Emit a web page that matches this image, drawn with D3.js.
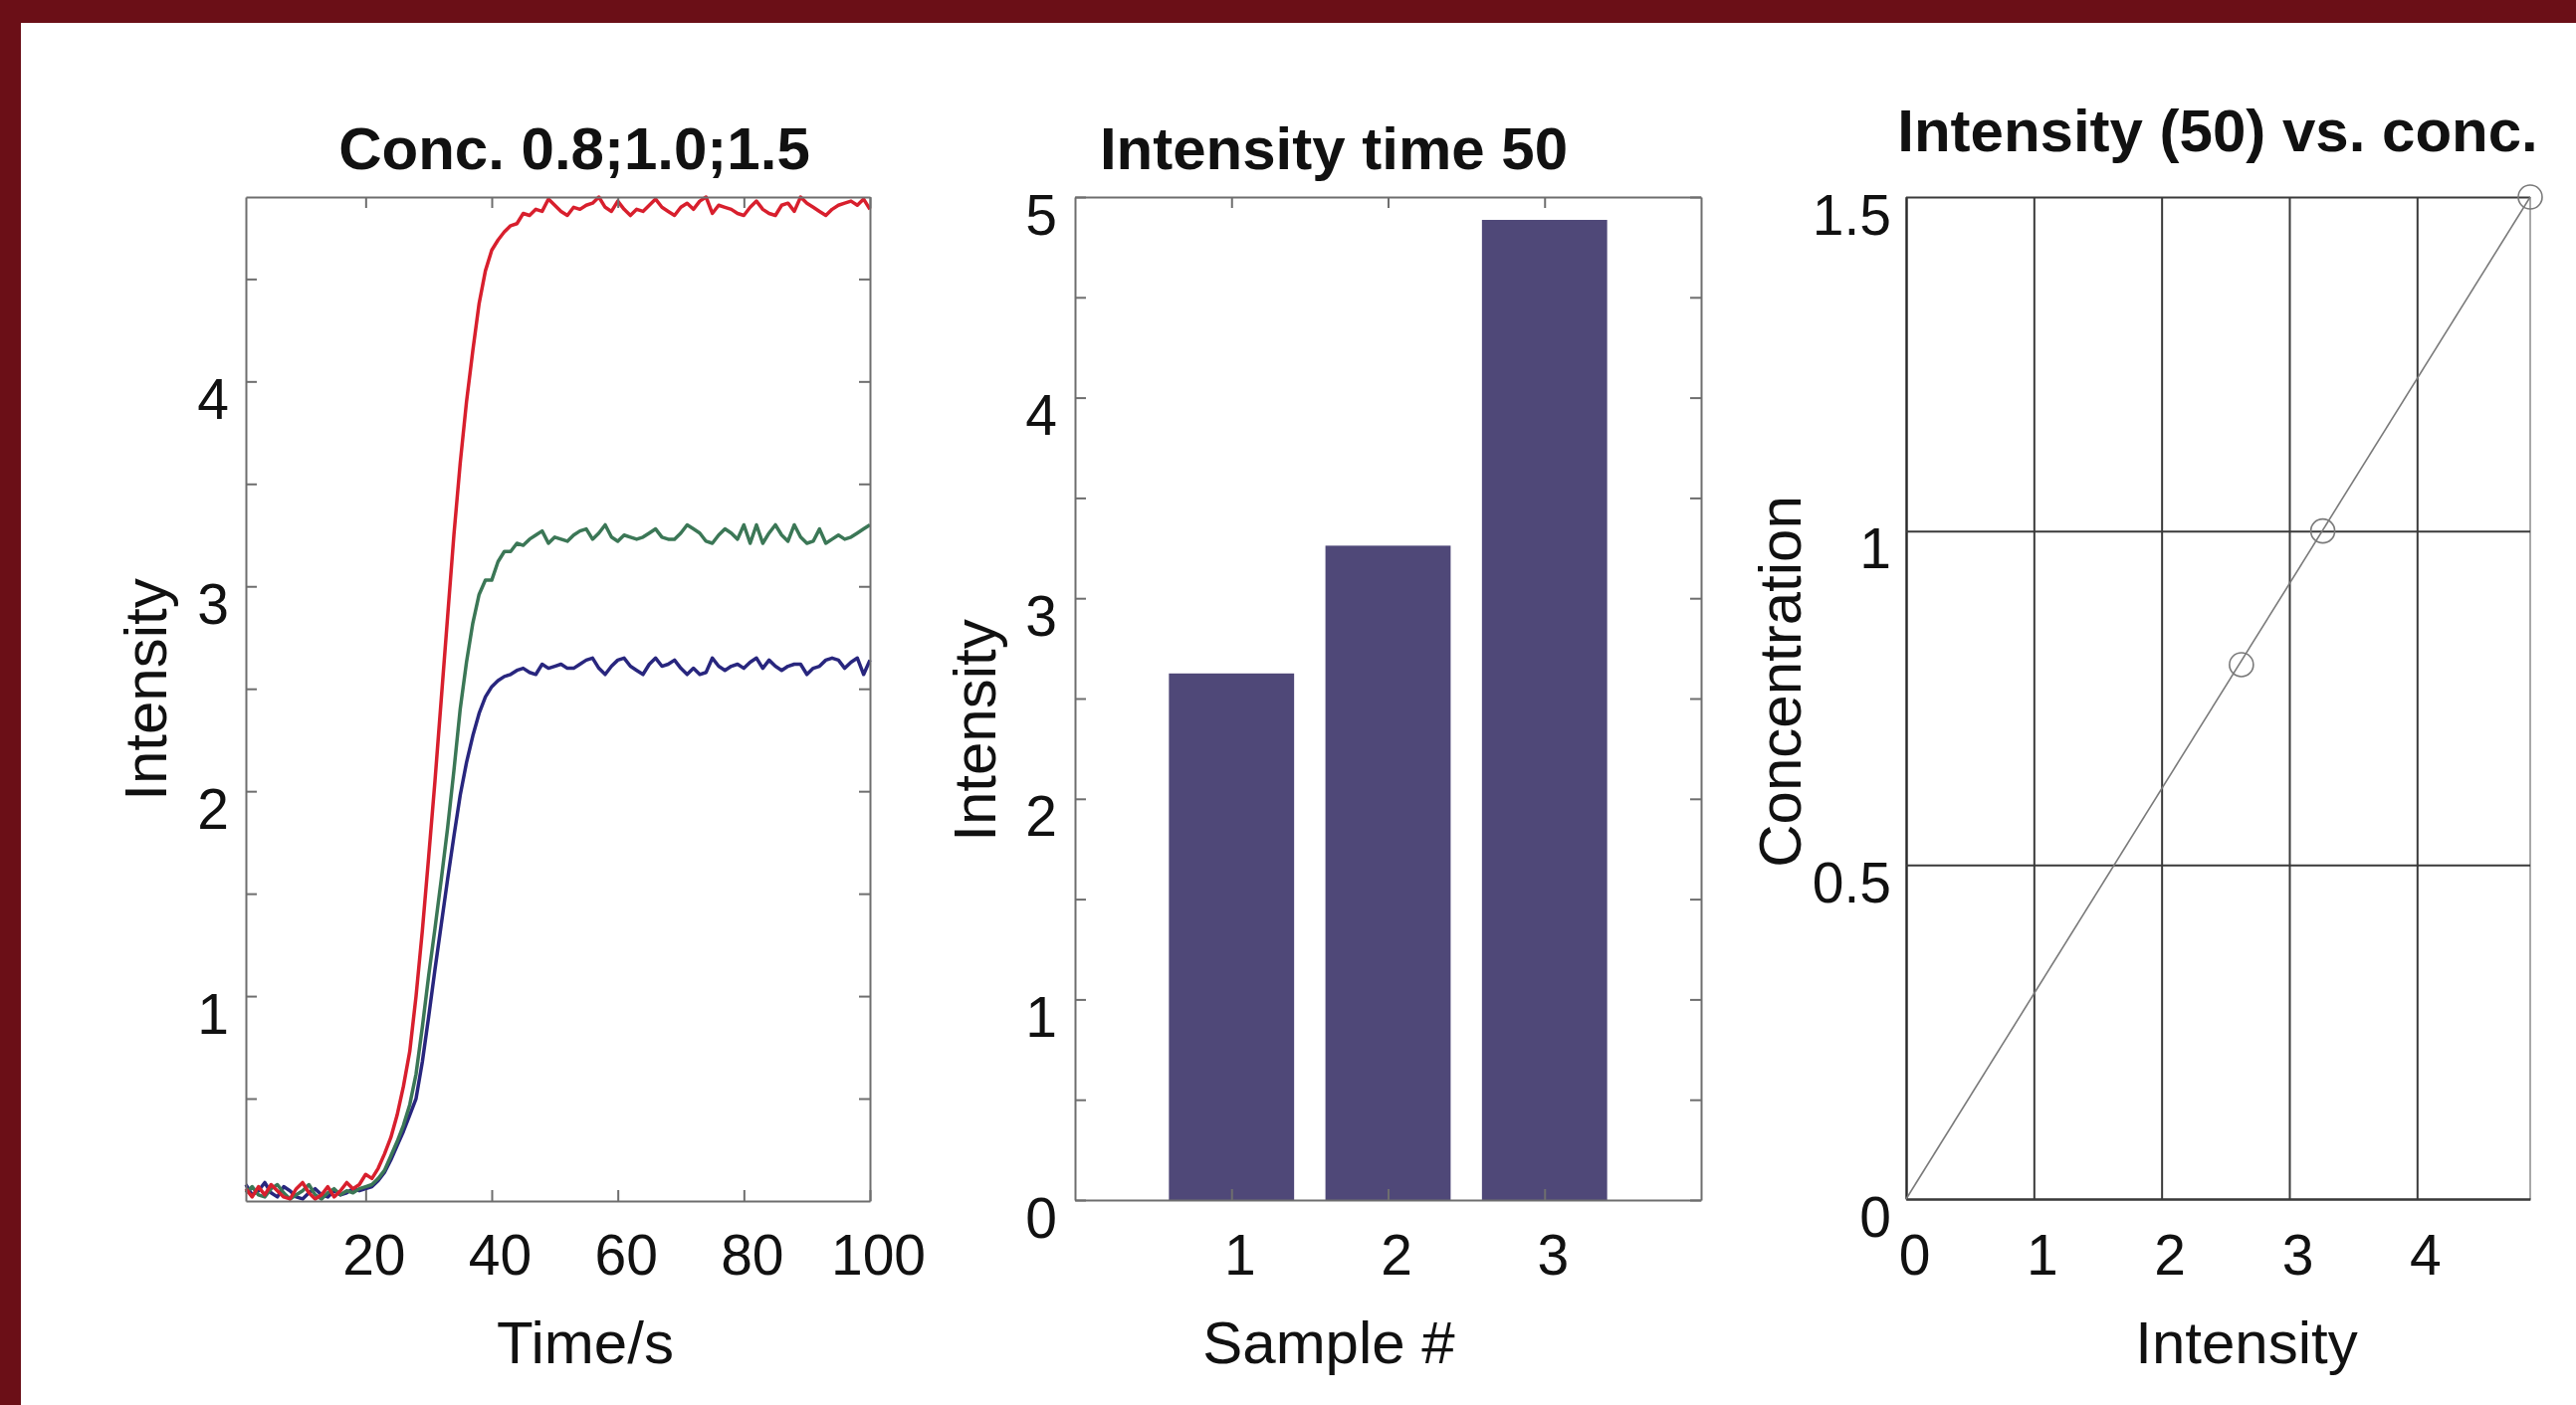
<!DOCTYPE html>
<html>
<head>
<meta charset="utf-8">
<script src="https://cdn.jsdelivr.net/npm/d3@7"></script>
<style>
  body { margin: 0; background: #fff; }
  svg { display: block; font-family: "Liberation Sans", Arial, Helvetica, sans-serif; }
</style>
</head>
<body>
<div id="chart"></div>
<script>
// ---- podaci ----
const time = d3.range(1, 101);

const redIntensity = [
  0.06, 0.02, 0.07, 0.03, 0.08, 0.05, 0.02, 0.01, 0.06, 0.09, 0.04, 0.01, 0.03, 0.07, 0.02, 0.05, 0.09, 0.06, 0.08, 0.13,
  0.11, 0.16, 0.23, 0.31, 0.42, 0.56, 0.73, 1.00, 1.32, 1.68,
  2.05, 2.45, 2.85, 3.25, 3.60, 3.90, 4.15, 4.38, 4.54, 4.64,
  4.69, 4.73, 4.76, 4.77, 4.82, 4.81, 4.84, 4.83, 4.89, 4.86,
  4.83, 4.81, 4.85, 4.84, 4.86, 4.87, 4.90, 4.85, 4.83, 4.88,
  4.84, 4.81, 4.84, 4.83, 4.86, 4.89, 4.85, 4.83, 4.81, 4.85,
  4.87, 4.84, 4.88, 4.90, 4.82, 4.86, 4.85, 4.84, 4.82, 4.81,
  4.85, 4.88, 4.84, 4.82, 4.81, 4.86, 4.87, 4.83, 4.90, 4.87,
  4.85, 4.83, 4.81, 4.84, 4.86, 4.87, 4.88, 4.86, 4.89, 4.84
];

const greenIntensity = [
  0.04, 0.07, 0.03, 0.02, 0.06, 0.08, 0.04, 0.01, 0.03, 0.05, 0.08, 0.03, 0.01, 0.04, 0.06, 0.03, 0.05, 0.04, 0.06, 0.07,
  0.08, 0.11, 0.15, 0.22, 0.29, 0.37, 0.47, 0.62, 0.85, 1.10,
  1.33, 1.57, 1.82, 2.10, 2.40, 2.63, 2.82, 2.96, 3.03, 3.03,
  3.12, 3.17, 3.17, 3.21, 3.20, 3.23, 3.25, 3.27, 3.21, 3.24,
  3.23, 3.22, 3.25, 3.27, 3.28, 3.23, 3.26, 3.30, 3.24, 3.22,
  3.25, 3.24, 3.23, 3.24, 3.26, 3.28, 3.24, 3.23, 3.23, 3.26,
  3.30, 3.28, 3.26, 3.22, 3.21, 3.25, 3.28, 3.26, 3.23, 3.30,
  3.21, 3.30, 3.21, 3.26, 3.30, 3.25, 3.22, 3.30, 3.24, 3.21,
  3.22, 3.28, 3.21, 3.23, 3.25, 3.23, 3.24, 3.26, 3.28, 3.30
];

const blueIntensity = [
  0.08, 0.03, 0.05, 0.09, 0.04, 0.02, 0.07, 0.05, 0.02, 0.01, 0.04, 0.06, 0.03, 0.02, 0.05, 0.03, 0.04, 0.06, 0.05, 0.06,
  0.07, 0.10, 0.14, 0.20, 0.27, 0.34, 0.42, 0.50, 0.68, 0.90,
  1.13, 1.35, 1.57, 1.78, 1.98, 2.14, 2.27, 2.38, 2.46, 2.51,
  2.54, 2.56, 2.57, 2.59, 2.60, 2.58, 2.57, 2.62, 2.60, 2.61,
  2.62, 2.60, 2.60, 2.62, 2.64, 2.65, 2.60, 2.57, 2.61, 2.64,
  2.65, 2.61, 2.59, 2.57, 2.62, 2.65, 2.61, 2.62, 2.64, 2.60,
  2.57, 2.60, 2.57, 2.58, 2.65, 2.61, 2.59, 2.61, 2.62, 2.60,
  2.63, 2.65, 2.60, 2.64, 2.61, 2.59, 2.61, 2.62, 2.62, 2.57,
  2.60, 2.61, 2.64, 2.65, 2.64, 2.60, 2.63, 2.65, 2.57, 2.64
];

const samples = [1, 2, 3];
const intensity50 = [2.625, 3.262, 4.886];
const concentration = [0.8, 1.0, 1.5];
const fitIntensity = [0, 4.886];
const fitConcentration = [0, 1.5];

const timeTicks = [20, 40, 60, 80, 100];
const curveYTicks = [0.5, 1, 1.5, 2, 2.5, 3, 3.5, 4, 4.5];
const barYTicks = [0, 0.5, 1, 1.5, 2, 2.5, 3, 3.5, 4, 4.5, 5];
const calXTicks = [0, 1, 2, 3, 4];
const calYTicks = [0, 0.5, 1, 1.5];

// ---- dimenzije ----
const sirina = 2588, visina = 1412;
const p1 = { left: 247, right: 874, top: 198, bottom: 1207 };
const p2 = { left: 1080, right: 1709, top: 198, bottom: 1206 };
const p3 = { left: 1915, right: 2542, top: 198, bottom: 1205 };

const tickFont = 57, labelFont = 60;
const axisColor = "#6e6e6e";
const fmt = d => String(d);

const svg = d3.select("#chart").append("svg")
  .attr("width", sirina)
  .attr("height", visina);

svg.append("rect").attr("width", sirina).attr("height", visina).attr("fill", "#fff");
svg.append("rect").attr("width", sirina).attr("height", 23).attr("fill", "#6b0f17");
svg.append("rect").attr("width", 21).attr("height", visina).attr("fill", "#6b0f17");

// pomocne funkcije
function styleAxis(g, color) {
  g.attr("font-size", null).attr("font-family", null);
  g.selectAll("path.domain").attr("stroke", color).attr("stroke-width", 2);
  g.selectAll(".tick line").attr("stroke", color).attr("stroke-width", 2);
}

function yLabels(g, x) {
  g.selectAll("text")
    .attr("x", x).attr("y", 37).attr("dy", null)
    .attr("font-size", tickFont).attr("fill", "#111")
    .attr("text-anchor", "end");
}

function xLabels(g, y) {
  g.selectAll("text")
    .attr("x", 8).attr("y", y).attr("dy", null)
    .attr("font-size", tickFont).attr("fill", "#111")
    .attr("text-anchor", "middle");
}

function title(txt, x, y) {
  svg.append("text")
    .attr("x", x).attr("y", y)
    .attr("text-anchor", "middle")
    .attr("font-size", labelFont)
    .attr("font-weight", "bold")
    .attr("fill", "#111")
    .text(txt);
}

function axisTitle(txt, x, y) {
  svg.append("text")
    .attr("x", x).attr("y", y)
    .attr("text-anchor", "middle")
    .attr("font-size", labelFont)
    .attr("fill", "#111")
    .text(txt);
}

function yTitle(txt, x, y) {
  svg.append("text")
    .attr("transform", `translate(${x},${y}) rotate(-90)`)
    .attr("text-anchor", "middle")
    .attr("font-size", labelFont)
    .attr("fill", "#111")
    .text(txt);
}

// ================= 1. Krivulje =================
const x1 = d3.scaleLinear().domain([1, 100]).range([p1.left, p1.right]);
const y1 = d3.scaleLinear().domain([0, 4.9]).range([p1.bottom, p1.top]);

const linija = d3.line()
  .x((d, i) => x1(time[i]))
  .y(d => y1(d));

const serije = [
  { vrijednosti: blueIntensity, boja: "#28267e" },
  { vrijednosti: greenIntensity, boja: "#3b7756" },
  { vrijednosti: redIntensity, boja: "#d81f2d" }
];

svg.append("g").selectAll("path")
  .data(serije)
  .enter().append("path")
    .attr("d", d => linija(d.vrijednosti))
    .attr("fill", "none")
    .attr("stroke", d => d.boja)
    .attr("stroke-width", 3.5)
    .attr("stroke-linejoin", "round");

const a1left = svg.append("g")
  .attr("transform", `translate(${p1.left},0)`)
  .call(d3.axisLeft(y1).tickValues(curveYTicks).tickSize(-11).tickSizeOuter(0)
    .tickFormat(d => Number.isInteger(d) ? fmt(d) : ""));
styleAxis(a1left, axisColor);
yLabels(a1left, -17);

const a1right = svg.append("g")
  .attr("transform", `translate(${p1.right},0)`)
  .call(d3.axisRight(y1).tickValues(curveYTicks).tickSize(-11).tickSizeOuter(0).tickFormat(""));
styleAxis(a1right, axisColor);

const a1bottom = svg.append("g")
  .attr("transform", `translate(0,${p1.bottom})`)
  .call(d3.axisBottom(x1).tickValues(timeTicks).tickSize(-11).tickSizeOuter(0).tickFormat(fmt));
styleAxis(a1bottom, axisColor);
xLabels(a1bottom, 74);

const a1top = svg.append("g")
  .attr("transform", `translate(0,${p1.top})`)
  .call(d3.axisTop(x1).tickValues(timeTicks).tickSize(-11).tickSizeOuter(0).tickFormat(""));
styleAxis(a1top, axisColor);

title("Conc. 0.8;1.0;1.5", 577, 170);
axisTitle("Time/s", 588, 1370);
yTitle("Intensity", 167, 693);

// ================= 2. Stupci =================
const x2 = d3.scaleLinear().domain([0, 4]).range([p2.left, p2.right]);
const y2 = d3.scaleLinear().domain([0, 5]).range([p2.bottom, p2.top]);

svg.append("g").selectAll("rect")
  .data(samples)
  .enter().append("rect")
    .attr("x", d => x2(d - 0.4))
    .attr("width", x2(0.8) - x2(0))
    .attr("y", (d, i) => y2(intensity50[i]))
    .attr("height", (d, i) => y2(0) - y2(intensity50[i]))
    .attr("fill", "#4f4878");

const a2left = svg.append("g")
  .attr("transform", `translate(${p2.left},0)`)
  .call(d3.axisLeft(y2).tickValues(barYTicks).tickSize(-11).tickSizeOuter(0)
    .tickFormat(d => Number.isInteger(d) ? fmt(d) : ""));
styleAxis(a2left, axisColor);
yLabels(a2left, -18);

const a2right = svg.append("g")
  .attr("transform", `translate(${p2.right},0)`)
  .call(d3.axisRight(y2).tickValues(barYTicks).tickSize(-11).tickSizeOuter(0).tickFormat(""));
styleAxis(a2right, axisColor);

const a2bottom = svg.append("g")
  .attr("transform", `translate(0,${p2.bottom})`)
  .call(d3.axisBottom(x2).tickValues(samples).tickSize(-11).tickSizeOuter(0).tickFormat(fmt));
styleAxis(a2bottom, axisColor);
xLabels(a2bottom, 75);

const a2top = svg.append("g")
  .attr("transform", `translate(0,${p2.top})`)
  .call(d3.axisTop(x2).tickValues(samples).tickSize(-11).tickSizeOuter(0).tickFormat(""));
styleAxis(a2top, axisColor);

title("Intensity time 50", 1340, 170);
axisTitle("Sample #", 1335, 1370);
yTitle("Intensity", 1000, 734);

// ================= 3. Kalibracija =================
const x3 = d3.scaleLinear().domain([0, 4.886]).range([p3.left, p3.right]);
const y3 = d3.scaleLinear().domain([0, 1.5]).range([p3.bottom, p3.top]);

svg.append("line")
  .attr("x1", p3.right).attr("x2", p3.right)
  .attr("y1", p3.top).attr("y2", p3.bottom)
  .attr("stroke", "#a8a8a8").attr("stroke-width", 2);

const a3x = svg.append("g")
  .attr("transform", `translate(0,${p3.bottom})`)
  .call(d3.axisBottom(x3).tickValues(calXTicks).tickSize(-(p3.bottom - p3.top)).tickSizeOuter(0).tickFormat(fmt));
styleAxis(a3x, "#3a3a3a");
a3x.selectAll("path.domain").attr("stroke", "#2a2a2a");
xLabels(a3x, 76);

const a3y = svg.append("g")
  .attr("transform", `translate(${p3.left},0)`)
  .call(d3.axisLeft(y3).tickValues(calYTicks).tickSize(-(p3.right - p3.left)).tickSizeOuter(0).tickFormat(fmt));
styleAxis(a3y, "#3a3a3a");
a3y.selectAll("path.domain").attr("stroke", "#2a2a2a");
yLabels(a3y, -15);

const fitLine = d3.line()
  .x((d, i) => x3(fitIntensity[i]))
  .y(d => y3(d));

svg.append("path")
  .attr("d", fitLine(fitConcentration))
  .attr("fill", "none")
  .attr("stroke", "#7a7a7a")
  .attr("stroke-width", 1.6);

svg.append("g").selectAll("circle")
  .data(concentration)
  .enter().append("circle")
    .attr("cx", (d, i) => x3(intensity50[i]))
    .attr("cy", d => y3(d))
    .attr("r", 12)
    .attr("fill", "none")
    .attr("stroke", "#7a7a7a")
    .attr("stroke-width", 1.6);

title("Intensity (50) vs. conc.", 2228, 152);
axisTitle("Intensity", 2257, 1370);
yTitle("Concentration", 1809, 685);
</script>
</body>
</html>
